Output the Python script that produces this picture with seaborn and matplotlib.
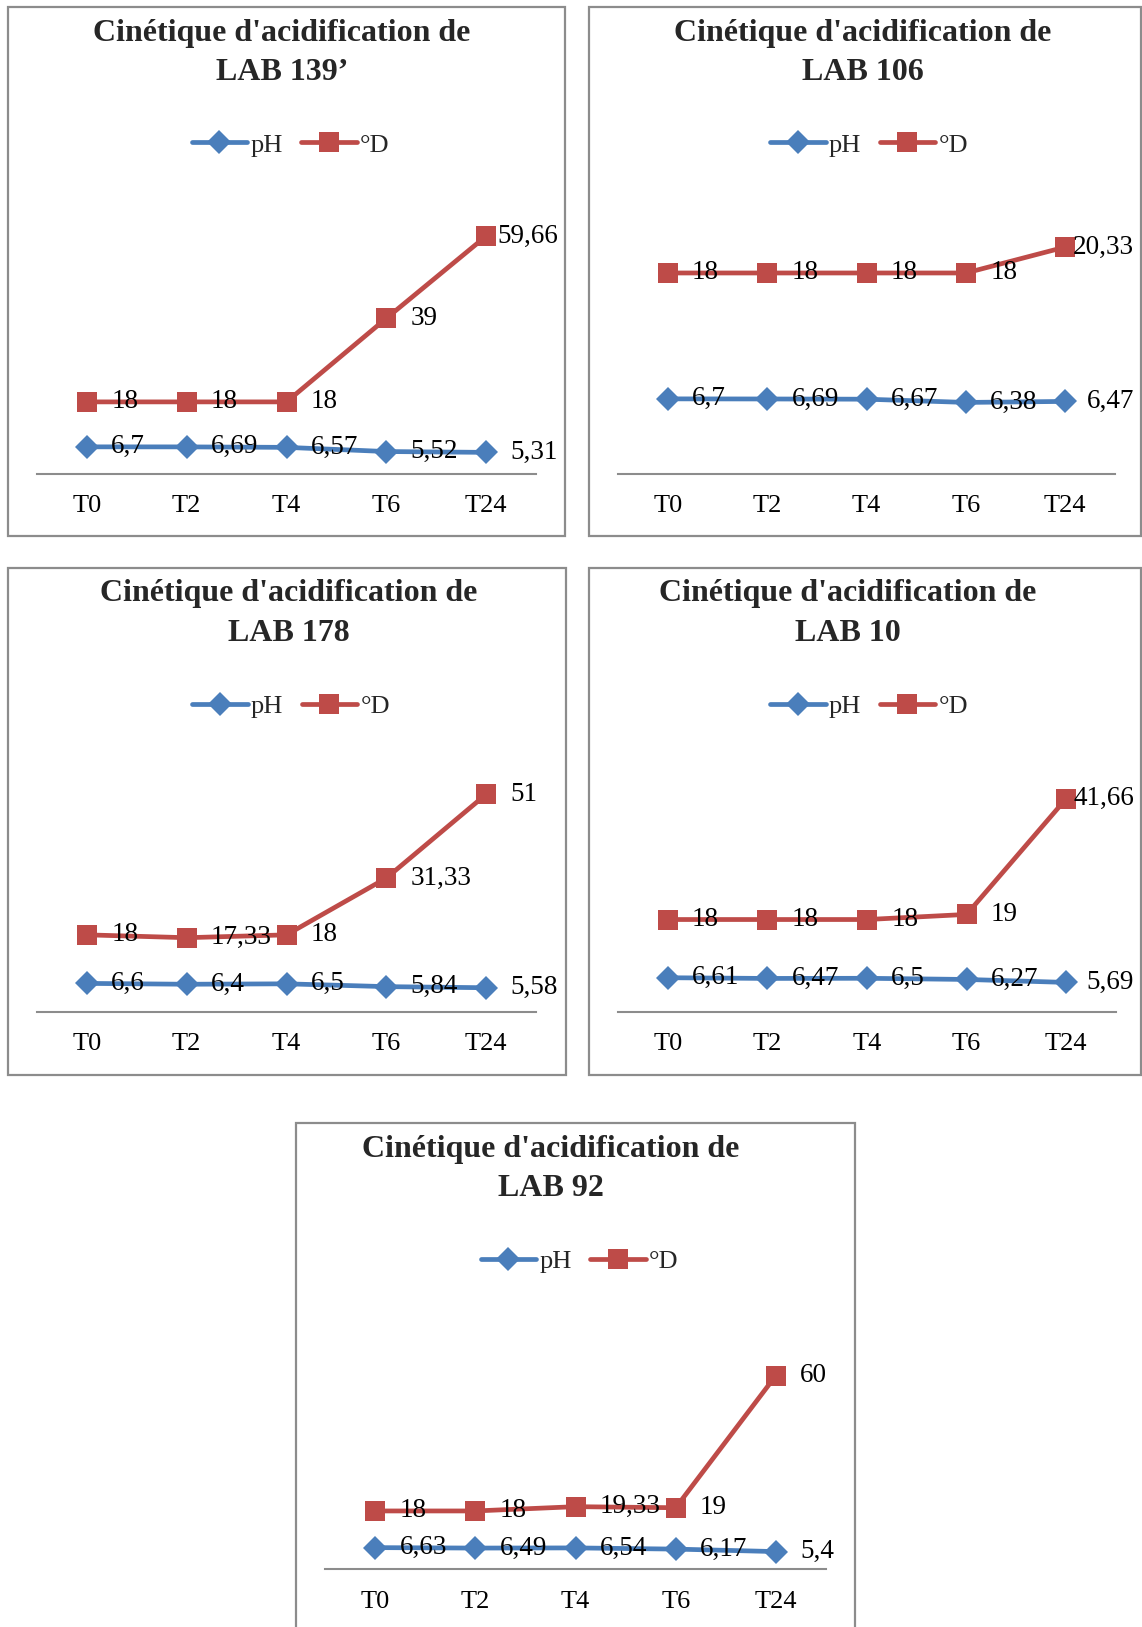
import matplotlib
matplotlib.use("Agg")
import matplotlib.pyplot as plt
from matplotlib.patches import Rectangle
import seaborn as sns
import pandas as pd

# ---------------- data ----------------
times = ["T0", "T2", "T4", "T6", "T24"]

ph_139 = [6.7, 6.69, 6.57, 5.52, 5.31]
d_139 = [18, 18, 18, 39, 59.66]

ph_106 = [6.7, 6.69, 6.67, 6.38, 6.47]
d_106 = [18, 18, 18, 18, 20.33]

ph_178 = [6.6, 6.4, 6.5, 5.84, 5.58]
d_178 = [18, 17.33, 18, 31.33, 51]

ph_10 = [6.61, 6.47, 6.5, 6.27, 5.69]
d_10 = [18, 18, 18, 19, 41.66]

ph_92 = [6.63, 6.49, 6.54, 6.17, 5.4]
d_92 = [18, 18, 19.33, 19, 60]

titles = ["LAB 139\u2019", "LAB 106", "LAB 178", "LAB 10", "LAB 92"]
title_line1 = "Cinétique d'acidification de"
series_names = ["pH", "°D"]
y_max = [70, 25, 60, 50, 80]

# ---------------- style ----------------
sns.set_theme(style="white")
plt.rcParams["font.family"] = ["Liberation Serif", "DejaVu Serif"]

BLUE = "#4A7EBB"
RED = "#BE4B48"
GRAY = "#8C8C8C"

W, H = 1142, 1627
fig = plt.figure(figsize=(W / 100, H / 100), dpi=100)


def fx(x):
    return x / W


def fy(y):
    return 1 - y / H


# panel layout in pixels: box (l, t, r, b), axes (l, r), axes top, axes bottom, title centre x
panels = [
    dict(box=(8, 7, 565, 536), ax=(37, 536), top=195, bot=473.5, tcx=282),
    dict(box=(589, 7, 1141, 536), ax=(618, 1115), top=195, bot=473.5, tcx=863),
    dict(box=(8, 568, 566, 1075), ax=(37, 536), top=756, bot=1011.5, tcx=289),
    dict(box=(589, 568, 1141, 1075), ax=(618, 1116), top=756, bot=1011.5, tcx=848),
    dict(box=(296, 1123, 855, 1660), ax=(325, 826), top=1311, bot=1569, tcx=551),
]

ph_data = [ph_139, ph_106, ph_178, ph_10, ph_92]
d_data = [d_139, d_106, d_178, d_10, d_92]


def fmt(v):
    return f"{v:g}".replace(".", ",")


all_labels = []
for i, p in enumerate(panels):
    bl, bt, br, bb = p["box"]
    fig.add_artist(Rectangle((fx(bl), fy(bb)), (br - bl) / W, (bb - bt) / H,
                             transform=fig.transFigure, fill=False,
                             edgecolor=GRAY, linewidth=1.6, zorder=0))
    al, ar = p["ax"]
    ax = fig.add_axes([fx(al), fy(p["bot"]), (ar - al) / W, (p["bot"] - p["top"]) / H])
    ax.patch.set_alpha(0)

    df_ph = pd.DataFrame({"Temps": times, "Valeur": ph_data[i]})
    df_d = pd.DataFrame({"Temps": times, "Valeur": d_data[i]})
    sns.lineplot(data=df_ph, x="Temps", y="Valeur", sort=False, color=BLUE,
                 marker="D", markersize=12, markeredgewidth=0, linewidth=3.4,
                 ax=ax, legend=False, errorbar=None)
    sns.lineplot(data=df_d, x="Temps", y="Valeur", sort=False, color=RED,
                 marker="s", markersize=15, markeredgewidth=0, linewidth=3.4,
                 ax=ax, legend=False, errorbar=None)

    ax.set_xlim(-0.5, 4.5)
    ax.set_ylim(0, y_max[i])
    for s in ["top", "left", "right"]:
        ax.spines[s].set_visible(False)
    ax.spines["bottom"].set_color(GRAY)
    ax.spines["bottom"].set_linewidth(1.5)
    ax.set_yticks([])
    ax.set_xlabel("")
    ax.set_ylabel("")
    ax.tick_params(axis="x", length=0, pad=15.5, labelsize=19, colors="black")

    # data labels
    for vals in (ph_data[i], d_data[i]):
        for j, v in enumerate(vals):
            t = ax.annotate(fmt(v), (j, v), xytext=(17.5, 0), textcoords="offset points",
                            ha="left", va="center", fontsize=19.5, color="black", zorder=5)
            all_labels.append((t, br - 7))

    # legend
    h = ax.lines[:2]
    cx = (bl + br) / 2 + 4
    ax.legend(h, series_names, loc="center", bbox_to_anchor=(fx(cx), fy(bt + 138)),
              bbox_transform=fig.transFigure, ncol=2, frameon=False, fontsize=19,
              handlelength=2.1, handletextpad=0.12, columnspacing=0.7,
              borderpad=0, borderaxespad=0)

    # title
    tcx = p["tcx"]
    fig.text(fx(tcx), fy(bt + 26), title_line1, ha="center", va="center",
             fontsize=23, fontweight="bold")
    fig.text(fx(tcx), fy(bt + 65), titles[i], ha="center", va="center",
             fontsize=23, fontweight="bold")

# keep data labels inside their panel box
fig.canvas.draw()
renderer = fig.canvas.get_renderer()
for t, limit in all_labels:
    bb = t.get_window_extent(renderer)
    if bb.x1 > limit:
        shift_pt = (bb.x1 - limit) * 72 / fig.dpi
        x0, y0 = t.xyann
        t.xyann = (x0 - shift_pt, y0)

fig.savefig("out.png", dpi=100)
